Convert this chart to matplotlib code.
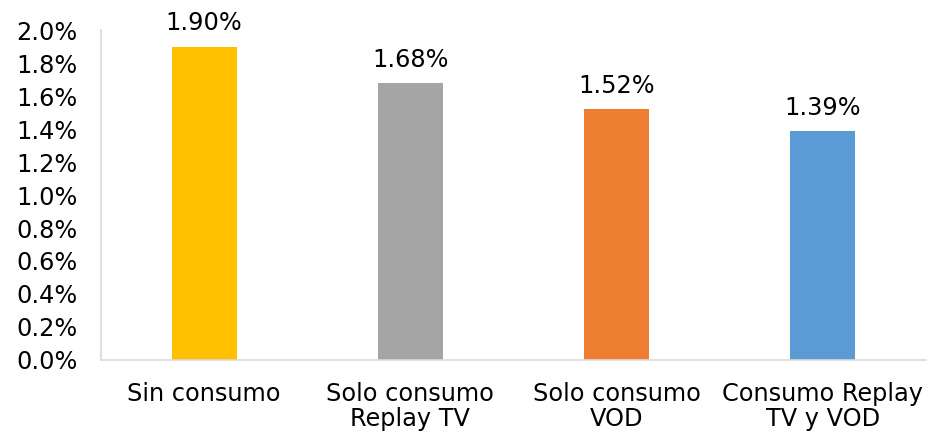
import matplotlib
matplotlib.use("Agg")
import matplotlib.pyplot as plt
from matplotlib.ticker import FuncFormatter

# data
categories = ["Sin consumo", "Solo consumo\nReplay TV", "Solo consumo\nVOD", "Consumo Replay\nTV y VOD"]
values = [1.90, 1.68, 1.52, 1.39]
bar_colors = ["#FFC000", "#A5A5A5", "#ED7D31", "#5B9BD5"]
yticks = [0.0, 0.2, 0.4, 0.6, 0.8, 1.0, 1.2, 1.4, 1.6, 1.8, 2.0]

plt.rcParams['font.family'] = ['DejaVu Sans']
fs = 17.3

fig = plt.figure(figsize=(9.29, 4.33), dpi=100)
ax = fig.add_axes([0.1087, 0.1686, 0.8881, 0.7621])

x = range(len(categories))
bars = ax.bar(x, values, width=0.315, color=bar_colors, zorder=2)

for b, v in zip(bars, values):
    ax.annotate("%.2f%%" % v, (b.get_x() + b.get_width() / 2, v),
                xytext=(0, 8), textcoords="offset points",
                ha="center", va="bottom", fontsize=fs, color="#000000",
                annotation_clip=False)

ax.set_xlim(-0.5, len(categories) - 0.5)
ax.set_ylim(0, 2.0)
ax.set_yticks(yticks)
ax.yaxis.set_major_formatter(FuncFormatter(lambda v, p: "%.1f%%" % v))
ax.set_xticks(list(x))
ax.set_xticklabels(categories, linespacing=1.05)

ax.tick_params(axis="y", length=0, pad=17, labelsize=fs)
ax.tick_params(axis="x", length=0, pad=16, labelsize=fs)

for s in ["top", "right"]:
    ax.spines[s].set_visible(False)
for s in ["left", "bottom"]:
    ax.spines[s].set_color("#D9D9D9")
    ax.spines[s].set_linewidth(1.2)

fig.savefig("out.png", dpi=100)
